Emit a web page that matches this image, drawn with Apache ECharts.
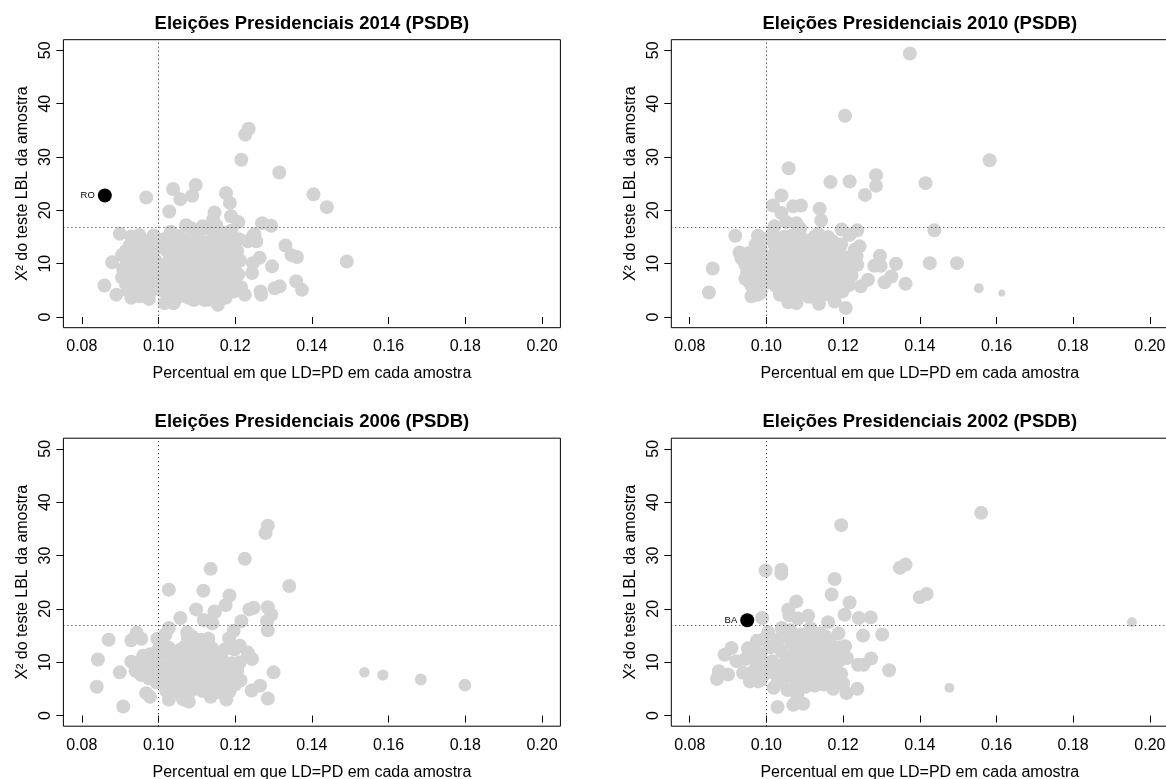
<!DOCTYPE html>
<html>
<head>
<meta charset="utf-8">
<script src="https://cdn.jsdelivr.net/npm/echarts@6/dist/echarts.min.js"></script>
<style>html,body{margin:0;padding:0;background:#fff;}#c{width:1166px;height:779px;}</style>
</head>
<body>
<div id="c"></div>
<script>
// ---------------- DATA ----------------
const panelTitles = [
  'Eleições Presidenciais 2014 (PSDB)',
  'Eleições Presidenciais 2010 (PSDB)',
  'Eleições Presidenciais 2006 (PSDB)',
  'Eleições Presidenciais 2002 (PSDB)'
];
const xTicks = [0.08, 0.10, 0.12, 0.14, 0.16, 0.18, 0.20];
const yTicks = [0, 10, 20, 30, 40, 50];
const xTitle = 'Percentual em que LD=PD em cada amostra';
const yTitle = 'X² do teste LBL da amostra';
const refX = 0.10;      // vertical dotted reference
const refY = 16.92;     // horizontal dotted reference (critical value)

// [x, y, relative weight (optional, default 1)]
const pts2014 = [
  [0.1235,35.3],[0.1226,34.2],[0.1216,29.5],[0.1315,27.1],[0.1404,23.0],[0.1439,20.6],[0.1491,10.4],
  [0.0968,22.4],[0.1038,24.0],[0.1097,24.75],[0.1088,22.75],[0.1057,22.1],[0.1028,19.8],[0.1176,23.25],
  [0.1186,21.4],[0.1146,19.6],[0.1142,18.25],[0.1189,18.9],[0.1208,17.8],[0.1270,17.6],[0.1294,17.1],
  [0.0899,15.6],[0.0929,15.1],[0.0950,15.4],[0.0987,15.3],[0.0879,10.25],[0.0859,5.9],[0.0890,4.2],
  [0.0929,3.6],[0.0951,3.9],[0.0975,3.4],[0.1225,4.2],[0.1266,4.8],[0.1268,4.2],[0.1303,5.4],[0.1316,5.75],
  [0.1359,6.7],[0.1374,5.1],[0.1296,9.5],[0.1246,15.1],[0.1233,14.2],[0.1264,11.1],[0.1246,10.1],
  [0.1244,8.25],[0.1331,13.4],[0.1347,11.6],[0.1361,11.25],[0.1155,2.3],[0.1133,3.25],[0.1099,4.2],
  [0.1038,2.6],[0.1016,2.6],
  [0.0905,11.6],[0.0915,12.4],[0.0925,13.4],[0.0935,13.0],[0.0945,12.0],[0.0955,13.4],[0.0962,11.0],
  [0.0975,10.5],[0.0985,9.4],[0.0915,9.5],[0.0925,8.6],[0.0935,10.2],[0.0945,9.0],[0.0955,8.2],
  [0.0965,9.6],[0.0975,7.6],[0.0985,6.6],[0.0905,7.4],[0.0915,6.2],[0.0930,6.8],[0.0945,5.8],
  [0.0955,6.6],[0.0965,5.0],[0.0978,4.6],[0.0990,5.6],[0.0992,8.0],[0.0938,4.8],[0.0950,11.0],
  [0.0970,12.4],[0.0982,11.6],
  [0.0908,9.0],[0.0920,10.8],[0.0940,11.2],[0.0952,9.6],[0.0968,7.0],[0.0980,8.4],[0.0920,5.0],
  [0.0948,14.0],[0.0965,14.2],[0.0992,10.6],[0.0995,13.0],
  [0.1015,14.6],[0.1022,12.4],[0.1018,9.8],[0.1012,7.2],[0.1008,5.0],[0.1025,3.4],[0.1040,2.6],
  [0.1035,5.6],[0.1042,8.2],[0.1038,10.8],[0.1045,13.2],[0.1032,16.0],[0.1055,15.2],[0.1062,12.0],
  [0.1058,9.4],[0.1066,6.8],[0.1060,4.0],[0.1078,3.6],[0.1085,5.6],[0.1080,8.6],[0.1088,11.2],
  [0.1082,13.6],[0.1086,16.6],[0.1100,15.0],[0.1105,12.6],[0.1098,10.0],[0.1108,7.4],[0.1100,4.6],
  [0.1120,3.2],[0.1125,6.0],[0.1118,8.8],[0.1128,11.6],[0.1122,14.0],[0.1135,16.4],[0.1142,13.0],
  [0.1140,10.2],[0.1148,7.6],[0.1145,4.8],[0.1162,5.2],[0.1160,8.0],[0.1165,10.8],[0.1158,13.4],
  [0.1168,15.8],[0.1178,14.0],[0.1182,11.6],[0.1180,9.0],[0.1185,6.4],[0.1175,3.6],[0.1195,4.8],
  [0.1200,7.2],[0.1198,9.8],[0.1205,12.4],[0.1190,16.2],[0.1212,10.6],[0.1208,8.0],[0.1072,17.2],
  [0.1115,17.0],[0.1150,17.2],[0.1050,11.0],[0.1095,6.2],[0.1130,9.4],[0.1170,12.4],[0.1250,15.5],
  [0.1255,14.2],
  [0.1028,13.8],[0.1030,11.4],[0.1025,8.6],[0.1028,6.2],[0.1048,3.8],[0.1052,6.0],[0.1050,8.8],
  [0.1055,13.8],[0.1068,14.4],[0.1072,11.0],[0.1075,8.0],[0.1070,5.2],[0.1092,3.2],[0.1094,8.6],
  [0.1092,13.0],[0.1110,16.4],[0.1112,14.0],[0.1115,11.0],[0.1112,5.8],[0.1132,4.2],[0.1135,7.0],
  [0.1138,12.0],[0.1150,14.8],[0.1152,9.0],[0.1155,6.2],[0.1172,6.8],[0.1175,9.6],[0.1172,13.6],
  [0.1190,12.8],[0.1192,8.4],[0.1188,5.6],[0.1210,14.6],[0.1215,5.6],[0.1165,3.8]
];
const hi2014 = [[0.0860, 22.8, 'RO']];

const pts2010 = [
  [0.1374,49.4],[0.1205,37.75],[0.1582,29.4],[0.1614,4.5,0.5],[0.1554,5.4,0.7],
  [0.1058,27.9],[0.1167,25.3],[0.1217,25.4],[0.1286,26.6],[0.1286,24.6],[0.1257,22.9],[0.1415,25.1],
  [0.1438,16.25],[0.1426,10.1],[0.1497,10.1],[0.1039,22.8],[0.1017,20.9],[0.1070,20.75],[0.1090,20.9],
  [0.1139,20.3],[0.1143,18.1],[0.1078,17.6],[0.1039,19.5],[0.1021,17.0],[0.0919,15.25],[0.0978,15.25],
  [0.0982,13.9],[0.0930,12.1],[0.0939,10.75],[0.0860,9.1],[0.0850,4.6],[0.0961,3.9],[0.0978,4.2],
  [0.0957,6.4],[0.1196,16.4],[0.1217,15.4],[0.1237,16.25],[0.1243,13.25],[0.1235,11.4],[0.1237,9.8],
  [0.1296,11.5],[0.1281,9.6],[0.1298,9.6],[0.1338,10.0],[0.1265,7.0],[0.1326,7.6],[0.1308,6.5],
  [0.1363,6.25],[0.1246,5.75],[0.1207,1.7],[0.1178,2.9],[0.1137,2.5],[0.1057,2.75],[0.1078,2.6],
  [0.1126,3.6],[0.1161,15.0],[0.1126,15.1],[0.1048,15.1],[0.1000,6.4],
  [0.0935,11.0],[0.0945,9.8],[0.0950,8.4],[0.0960,10.4],[0.0955,12.0],[0.0965,9.0],[0.0970,7.2],
  [0.0962,5.8],[0.0975,11.6],[0.0985,12.8],[0.0990,10.2],[0.0980,8.6],[0.0992,6.8],[0.0985,4.6],
  [0.0995,14.6],
  [0.1015,15.6],[0.1022,13.4],[0.1012,11.4],[0.1020,9.4],[0.1010,7.6],[0.1025,5.8],[0.1035,4.2],
  [0.1042,6.8],[0.1040,8.8],[0.1045,10.8],[0.1038,12.8],[0.1050,14.6],[0.1062,12.6],[0.1060,10.4],
  [0.1065,8.2],[0.1058,5.6],[0.1068,3.4],[0.1082,4.8],[0.1085,7.0],[0.1080,9.4],[0.1088,11.6],
  [0.1078,13.8],[0.1095,14.6],[0.1102,12.4],[0.1100,10.0],[0.1105,7.8],[0.1098,5.6],[0.1110,3.8],
  [0.1122,5.2],[0.1125,7.4],[0.1120,9.6],[0.1128,11.8],[0.1118,13.8],[0.1135,15.6],[0.1142,13.2],
  [0.1145,10.8],[0.1140,8.4],[0.1148,6.2],[0.1150,4.2],[0.1165,5.4],[0.1162,7.6],[0.1168,9.8],
  [0.1160,12.0],[0.1172,14.2],[0.1185,12.4],[0.1182,10.2],[0.1188,8.0],[0.1180,5.6],[0.1175,3.6],
  [0.1195,6.6],[0.1200,8.8],[0.1205,11.2],[0.1195,13.6],[0.1215,6.0],[0.1222,7.8],[0.1228,10.4],
  [0.1230,12.6],[0.1052,17.8],[0.1088,16.6],
  [0.1030,14.0],[0.1032,10.0],[0.1030,7.4],[0.1048,5.0],[0.1055,9.4],[0.1052,12.0],[0.1070,15.4],
  [0.1072,11.4],[0.1075,6.4],[0.1092,8.6],[0.1095,4.8],[0.1110,11.0],[0.1112,13.6],[0.1115,6.6],
  [0.1132,9.2],[0.1135,4.4],[0.1152,12.2],[0.1155,8.0],[0.1158,14.6],[0.1175,11.2],[0.1178,7.0],
  [0.1192,10.0],[0.1198,4.8],[0.1212,9.0],[0.0945,7.2],[0.0975,5.6],[0.0992,9.0],[0.0972,13.6]
];
const hi2010 = [];

const pts2006 = [
  [0.1285,35.6],[0.1279,34.2],[0.1225,29.4],[0.1136,27.5],[0.1341,24.3],[0.1027,23.6],[0.1117,23.4],
  [0.1185,22.5],[0.1175,20.7],[0.1098,19.9],[0.1146,19.5],[0.1237,19.9],[0.1248,20.2],[0.1285,20.3],
  [0.1294,18.9],[0.1283,17.7],[0.1285,16.0],[0.1216,17.7],[0.1196,15.9],[0.1057,18.3],[0.1027,16.4],
  [0.1018,15.2],[0.0997,14.4],[0.0943,15.5],[0.0955,14.4],[0.0929,14.1],[0.0870,14.2],[0.0842,10.5],
  [0.0899,8.1],[0.0839,5.4],[0.0908,1.7],[0.0929,10.1],[0.0978,11.5],[0.0968,4.2],[0.0978,3.5],
  [0.1027,3.0],[0.1065,3.0],[0.1079,2.6],[0.1136,3.5],[0.1177,3.0],[0.1185,4.5],[0.1243,4.7],
  [0.1265,5.6],[0.1285,3.2],[0.1300,8.1],[0.1214,6.6],[0.1205,8.7],[0.1244,10.6],[0.1233,11.8],
  [0.1212,13.1],[0.1190,13.1],
  [0.1537,8.1,0.75],[0.1585,7.6,0.8],[0.1684,6.75,0.85],[0.1799,5.7,0.9],
  [0.1118,17.9],[0.1140,17.3],[0.1147,19.4],[0.1077,14.5],[0.1129,13.25],[0.1173,12.4],[0.1184,14.5],
  [0.0940,8.4],[0.0955,7.6],[0.0965,8.8],[0.0975,7.0],[0.0985,8.6],[0.0995,6.2],[0.0990,10.0],
  [0.0998,12.2],[0.0960,11.2],
  [0.1012,11.6],[0.1010,9.0],[0.1015,6.6],[0.1020,4.6],[0.1032,5.8],[0.1035,8.2],[0.1030,10.4],
  [0.1040,12.0],[0.1050,9.4],[0.1052,7.0],[0.1048,4.6],[0.1062,3.4],[0.1065,5.8],[0.1068,8.2],
  [0.1062,10.8],[0.1070,13.0],[0.1082,12.0],[0.1085,9.6],[0.1080,7.2],[0.1088,4.8],[0.1098,6.0],
  [0.1100,8.4],[0.1105,10.6],[0.1098,13.2],[0.1112,14.2],[0.1120,11.8],[0.1118,9.4],[0.1122,7.0],
  [0.1115,4.6],[0.1135,5.8],[0.1138,8.2],[0.1132,10.4],[0.1140,12.6],[0.1152,11.0],[0.1155,8.8],
  [0.1150,6.4],[0.1158,4.4],[0.1170,6.0],[0.1172,8.4],[0.1168,10.2],[0.1180,5.2],[0.1185,7.6],
  [0.1190,9.8],[0.1198,12.4],[0.1200,5.8],[0.1205,8.4],[0.1088,14.8],[0.1130,14.4],[0.1075,15.6],
  [0.1025,12.8],[0.1022,8.0],[0.1040,6.8],[0.1045,10.8],[0.1058,12.4],[0.1058,5.2],[0.1075,10.4],
  [0.1075,6.2],[0.1092,11.2],[0.1092,7.8],[0.1108,5.2],[0.1110,9.8],[0.1128,12.2],[0.1128,6.6],
  [0.1145,9.6],[0.1162,7.4],[0.1162,11.6],[0.1178,9.2],[0.1195,7.2],[0.1212,10.0],[0.0972,9.8],
  [0.0952,10.2],[0.1005,13.6],[0.1005,7.8]
];
const hi2006 = [];

const pts2002 = [
  [0.1195,35.7],[0.1560,38.0],[0.0998,27.2],[0.1039,27.35],[0.1039,26.6],[0.1178,25.6],[0.1170,22.7],
  [0.1217,21.2],[0.1078,21.4],[0.1057,19.9],[0.1109,18.7],[0.0989,18.3],[0.1161,17.5],[0.1204,18.9],
  [0.1241,18.3],[0.1272,18.4],[0.1252,15.0],[0.1302,15.2],[0.1348,27.7],[0.1363,28.3],[0.1400,22.2],
  [0.1418,22.8],[0.1273,10.7],[0.1320,8.5],[0.1477,5.2,0.7],[0.1953,17.5,0.7],
  [0.0909,12.65],[0.0891,11.4],[0.0922,10.2],[0.0876,8.3],[0.0871,6.85],[0.0900,7.7],[0.0939,8.0],
  [0.0957,6.4],[0.0978,6.4],[0.1029,1.6],[0.1070,2.0],[0.1096,2.2],[0.1019,5.2],[0.1126,5.6],
  [0.1174,5.0],[0.1209,4.2],[0.1237,5.0],[0.1239,9.5],[0.1253,9.5],
  [0.0945,10.6],[0.0960,12.2],[0.0975,9.4],[0.0985,11.6],[0.0990,14.2],[0.0975,14.0],[0.0965,8.2],
  [0.0995,7.8],[0.0985,6.6],
  [0.1010,12.8],[0.1015,10.2],[0.1020,8.0],[0.1030,6.2],[0.1035,14.4],[0.1040,12.0],[0.1045,9.6],
  [0.1050,7.2],[0.1055,4.8],[0.1062,16.0],[0.1065,13.6],[0.1068,11.2],[0.1072,8.8],[0.1078,6.4],
  [0.1080,3.8],[0.1090,15.2],[0.1092,12.6],[0.1095,10.2],[0.1098,7.8],[0.1102,5.4],[0.1115,16.4],
  [0.1118,14.0],[0.1120,11.6],[0.1122,9.2],[0.1125,6.8],[0.1140,15.4],[0.1142,13.0],[0.1145,10.6],
  [0.1148,8.2],[0.1150,5.8],[0.1165,14.2],[0.1168,11.8],[0.1170,9.4],[0.1172,7.0],[0.1188,15.4],
  [0.1190,12.8],[0.1192,10.4],[0.1195,7.8],[0.1205,13.0],[0.1210,10.8],[0.1200,6.0],[0.1082,18.2],
  [0.1060,18.8],
  [0.1028,9.2],[0.1025,13.6],[0.1052,11.0],[0.1058,15.2],[0.1060,8.2],[0.1085,9.8],[0.1085,14.0],
  [0.1088,5.2],[0.1108,11.6],[0.1108,8.8],[0.1132,12.0],[0.1132,7.4],[0.1155,14.8],[0.1158,9.6],
  [0.1160,7.0],[0.1180,12.6],[0.1182,8.6],[0.1198,11.4],[0.0952,12.6],[0.0968,10.8],[0.0995,9.6],
  [0.1040,16.4],[0.1005,15.6]
];
const hi2002 = [[0.0950, 17.86, 'BA']];

// ---------------- LAYOUT / STYLE ----------------
const panels = [
  {pts: pts2014, hi: hi2014, left: 63.4, top: 39.7},
  {pts: pts2010, hi: hi2010, left: 671.3, top: 39.7},
  {pts: pts2006, hi: hi2006, left: 63.4, top: 438.2},
  {pts: pts2002, hi: hi2002, left: 671.3, top: 438.2}
];
const GW = 497, GH = 288;
const FONT = "'Liberation Sans', Arial, Helvetica, sans-serif";
const BASE = 14;

const grid = [], xAxis = [], yAxis = [], series = [], graphic = [];
panels.forEach((p, i) => {
  grid.push({left: p.left, top: p.top, width: GW, height: GH, show: true,
    borderColor: '#000', borderWidth: 1, backgroundColor: 'transparent',
    containLabel: false, outerBoundsMode: 'none'});
  xAxis.push({
    type: 'value', gridIndex: i, min: 0.0752, max: 0.2048,
    name: xTitle, nameLocation: 'middle', nameGap: 38,
    nameTextStyle: {fontFamily: FONT, fontSize: 16, color: '#000'},
    axisLine: {show: false}, splitLine: {show: false},
    axisTick: {show: true, length: 7, customValues: xTicks, lineStyle: {color: '#000'}},
    axisLabel: {show: true, customValues: xTicks, margin: 11, fontFamily: FONT, fontSize: 16, color: '#000',
      formatter: v => Number(v).toFixed(2)}
  });
  yAxis.push({
    type: 'value', gridIndex: i, min: -2, max: 52,
    name: yTitle, nameLocation: 'middle', nameGap: 33,
    nameTextStyle: {fontFamily: FONT, fontSize: 16, color: '#000'},
    axisLine: {show: false}, splitLine: {show: false},
    axisTick: {show: true, length: 7, customValues: yTicks, lineStyle: {color: '#000'}},
    axisLabel: {show: true, customValues: yTicks, rotate: 90, margin: 10, fontFamily: FONT, fontSize: 16, color: '#000',
      formatter: v => String(Math.round(v))}
  });
  series.push({
    type: 'scatter', xAxisIndex: i, yAxisIndex: i, data: p.pts,
    symbol: 'circle', symbolSize: d => BASE * (d[2] || 1),
    itemStyle: {color: '#D3D3D3', opacity: 1}, silent: true, z: 2,
    markLine: {
      silent: true, symbol: ['none', 'none'], animation: false,
      label: {show: false},
      lineStyle: {color: '#222', width: 1, type: [1, 3], opacity: 1},
      data: [{xAxis: refX}, {yAxis: refY}]
    }
  });
  if (p.hi.length) {
    series.push({
      type: 'scatter', xAxisIndex: i, yAxisIndex: i, data: p.hi,
      symbol: 'circle', symbolSize: BASE, z: 3,
      itemStyle: {color: '#000', opacity: 1}, silent: true,
      label: {show: true, position: 'left', distance: 3, formatter: d => d.data[2],
        fontFamily: FONT, fontSize: 9.5, color: '#000'}
    });
  }
  graphic.push({type: 'text', x: p.left + GW / 2, y: p.top - 16,
    style: {text: panelTitles[i], font: "bold 18.5px 'Liberation Sans', Arial, sans-serif",
      fill: '#000', textAlign: 'center', textVerticalAlign: 'middle'}});
});

const chart = echarts.init(document.getElementById('c'), null, {renderer: 'canvas'});
chart.setOption({
  animation: false,
  backgroundColor: '#fff',
  grid, xAxis, yAxis, series, graphic
});
</script>
</body>
</html>
